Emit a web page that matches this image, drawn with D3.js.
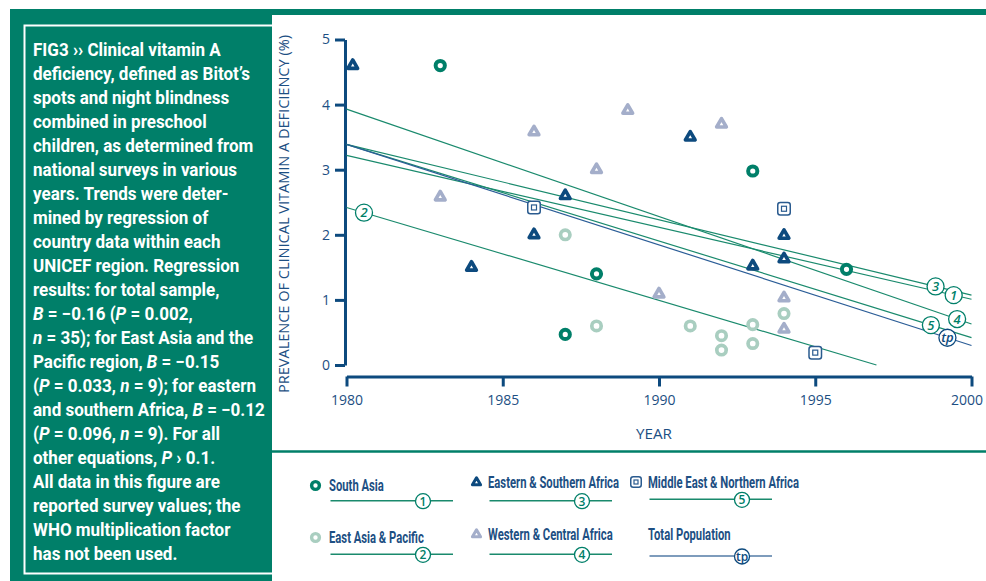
<!DOCTYPE html>
<html><head><meta charset="utf-8">
<script src="https://cdn.jsdelivr.net/npm/d3@7"></script>
<style>body{margin:0;background:#fff} svg{display:block}</style>
</head><body>
<svg id="chart" width="986" height="581"></svg>
<script>
// ---------------- DATA ----------------
const southAsia   = [[1983,4.6],[1987,0.47],[1988,1.4],[1993,2.98],[1996,1.47]];
const eastAsia    = [[1987,2.0],[1988,0.6],[1991,0.6],[1992,0.45],[1992,0.23],[1993,0.62],[1993,0.33],[1994,0.79]];
const esAfrica    = [[1980.2,4.6],[1984,1.5],[1986,2.0],[1987,2.6],[1991,3.5],[1993,1.52],[1994,1.99],[1994,1.63]];
const wcAfrica    = [[1983,2.58],[1986,3.58],[1988,3.0],[1989,3.91],[1990,1.09],[1992,3.7],[1994,1.03],[1994,0.55]];
const mena        = [[1986,2.42],[1994,2.4],[1995,0.19]];

const regionNames = ["South Asia","East Asia & Pacific","Eastern & Southern Africa","Western & Central Africa","Middle East & Northern Africa","Total Population"];
const lineIds     = ["1","2","3","4","5","tp"];
// regression: value at 1980 and slope per year
const lineStart   = [3.22, 2.42, 3.39, 3.93, 3.39, 3.39];
const lineSlope   = [-0.1105, -0.1427, -0.1158, -0.165, -0.1485, -0.1545];
const labelYear   = [1999.43, 1980.56, 1998.85, 1999.54, 1998.7, 1999.23];

const xTicks = [1980,1985,1990,1995,2000];
const yTicks = [0,1,2,3,4,5];

const captionLines = [
 "FIG3 ›› Clinical vitamin A",
 "deficiency, defined as Bitot’s",
 "spots and night blindness",
 "combined in preschool",
 "children, as determined from",
 "national surveys in various",
 "years. Trends were deter-",
 "mined by regression of",
 "country data within each",
 "UNICEF region. Regression",
 "results: for total sample,",
 "*B* = −0.16 (*P* = 0.002,",
 "*n* = 35); for East Asia and the",
 "Pacific region, *B* = −0.15",
 "(*P* = 0.033, *n* = 9); for eastern",
 "and southern Africa, *B* = −0.12",
 "(*P* = 0.096, *n* = 9). For all",
 "other equations, *P* › 0.1.",
 "All data in this figure are",
 "reported survey values; the",
 "WHO multiplication factor",
 "has not been used."
];

// ---------------- STYLE ----------------
const GREEN="#007f69", DBLUE="#0d4a7e", LGREEN="#a9cec0", LBLUE="#a4aeca",
      LINEG="#1a8a6d", TPB="#2b5d97", TXT="#1d4f83", SQB="#2a5b8f";
const svg=d3.select("#chart");

// panel & frame
svg.append("rect").attr("x",10).attr("y",9).attr("width",976).attr("height",6).attr("fill",GREEN);
svg.append("rect").attr("x",10).attr("y",9).attr("width",262).attr("height",572).attr("fill",GREEN);
svg.append("path").attr("d","M272,25.5H24.5V573.5H272").attr("fill","none").attr("stroke","#fff").attr("stroke-width",2);
svg.append("line").attr("x1",272).attr("x2",986).attr("y1",451.5).attr("y2",451.5).attr("stroke",GREEN).attr("stroke-width",2.5);

// caption
const cap=svg.append("g").attr("fill","#fff").attr("font-family","'Liberation Sans Narrow','Roboto','Noto Sans',sans-serif").attr("font-weight",700).attr("font-size",17.5);
const capTexts=captionLines.map((ln,i)=>{
  const t=cap.append("text").attr("x",0).attr("y",0).attr("transform",`translate(33,${56+24*i})`);
  ln.split("*").forEach((s,j)=>{ if(s) t.append("tspan").attr("font-style", j%2?"italic":"normal").text(s);});
  return t;
});
const kCap = 232 / capTexts[15].node().getComputedTextLength();
capTexts.forEach((t,i)=>t.attr("transform",`translate(33,${56+24*i}) scale(${kCap},1)`));

// scales
const x=d3.scaleLinear().domain([1980,2000]).range([346.5,971.5]);
const y=d3.scaleLinear().domain([0,5]).range([365,39.5]);

// axes
const yAx=svg.append("g").attr("transform","translate(345,0)")
  .call(d3.axisLeft(y).tickValues(yTicks).tickSize(10).tickSizeOuter(0).tickPadding(5).tickFormat(d3.format("d")));
const xAx=svg.append("g").attr("transform","translate(0,376.5)")
  .call(d3.axisBottom(x).tickValues(xTicks).tickSize(10).tickSizeOuter(0).tickPadding(9).tickFormat(d3.format("d")));
[yAx,xAx].forEach(g=>{
  g.selectAll("path.domain").attr("stroke",DBLUE).attr("stroke-width",3);
  g.selectAll(".tick line").attr("stroke",DBLUE).attr("stroke-width",3);
  g.selectAll(".tick text").attr("fill",TXT).attr("font-family","'Open Sans',sans-serif").attr("font-size",14);
});
xAx.selectAll(".tick text").filter(d=>d===2000).attr("text-anchor","end").attr("x",11);
svg.append("text").attr("transform","translate(289,214) rotate(-90)").attr("text-anchor","middle")
  .attr("fill",TXT).attr("font-family","'Open Sans',sans-serif").attr("font-size",14)
  .attr("textLength",358).attr("lengthAdjust","spacingAndGlyphs")
  .text("PREVALENCE OF CLINICAL VITAMIN A DEFICIENCY (%)");
svg.append("text").attr("x",654).attr("y",438.5).attr("text-anchor","middle")
  .attr("fill",TXT).attr("font-family","'Open Sans',sans-serif").attr("font-size",14).attr("textLength",36).attr("lengthAdjust","spacingAndGlyphs").text("YEAR");

// regression lines
const lineEnd = lineStart.map((a,i)=>Math.min(2000, 1980 + a/(-lineSlope[i])));
const lineG=svg.append("g");
lineIds.forEach((id,i)=>{
  const f=yr=>lineStart[i]+lineSlope[i]*(yr-1980);
  lineG.append("line").attr("x1",x(1980)).attr("y1",y(f(1980))).attr("x2",x(lineEnd[i])).attr("y2",y(f(lineEnd[i])))
    .attr("stroke", id==="tp"?TPB:LINEG).attr("stroke-width",1.2);
});

// markers
function triPath(R){const c=R*Math.cos(Math.PI/6);return `M0,${-R}L${c},${R/2}L${-c},${R/2}Z`;}
function drawCircle(g,cx,cy,col,r,sw){g.append("circle").attr("cx",cx).attr("cy",cy).attr("r",r).attr("fill","#fff").attr("stroke",col).attr("stroke-width",sw);}
function drawTri(g,cx,cy,col,R,sw){g.append("path").attr("d",triPath(R)).attr("transform",`translate(${cx},${cy})`).attr("fill","#fff").attr("stroke",col).attr("stroke-width",sw).attr("stroke-linejoin","round");}
function drawSq(g,cx,cy,s,si){
  g.append("rect").attr("x",cx-s/2).attr("y",cy-s/2).attr("width",s).attr("height",s).attr("rx",2.5).attr("fill","#fff").attr("stroke",SQB).attr("stroke-width",1.5);
  g.append("rect").attr("x",cx-si/2).attr("y",cy-si/2).attr("width",si).attr("height",si).attr("fill","#fff").attr("stroke",SQB).attr("stroke-width",1.2);
}
const pts=svg.append("g");
eastAsia.forEach(d=>drawCircle(pts,x(d[0]),y(d[1]),LGREEN,4.7,3.7));
southAsia.forEach(d=>drawCircle(pts,x(d[0]),y(d[1]),GREEN,4.6,4));
wcAfrica.forEach(d=>drawTri(pts,x(d[0]),y(d[1]),LBLUE,5.6,3.6));
esAfrica.forEach(d=>drawTri(pts,x(d[0]),y(d[1]),DBLUE,5.6,3.6));
mena.forEach(d=>drawSq(pts,x(d[0]),y(d[1]),12.5,5));

// line labels
function drawLabel(g,cx,cy,id,r,fs,ital){
  const col = id==="tp"?DBLUE:GREEN;
  g.append("circle").attr("cx",cx).attr("cy",cy).attr("r",r).attr("fill","#fff").attr("stroke",col).attr("stroke-width",1.3);
  g.append("text").attr("x",cx).attr("y",cy).attr("dy","0.36em").attr("text-anchor","middle").attr("fill",col)
    .attr("font-family","'Open Sans',sans-serif").attr("font-style",ital?"italic":"normal").attr("font-weight",600).attr("font-size",fs).text(id);
}
const labG=svg.append("g");
lineIds.forEach((id,i)=>{
  const v=lineStart[i]+lineSlope[i]*(labelYear[i]-1980);
  drawLabel(labG,x(labelYear[i]),y(v),id,8.5,13,true);
});

// legend
const legCol=[329,488,648], legRowText=[[491,543],[488,540],[487.5,540]], legRowLine=[[500.7,554.3],[500.7,554.3],[499.3,556]];
const legOrder=[[0,1],[2,3],[4,5]]; // column -> series indices
const legG=svg.append("g");
const legTexts=[];
legOrder.forEach((col,c)=>{
  col.forEach((si,r)=>{
    const tx=legCol[c], ty=legRowText[c][r];
    const ly=legRowLine[c][r];
    legG.append("line").attr("x1",tx+1.5).attr("x2",tx+124).attr("y1",ly).attr("y2",ly)
      .attr("stroke", si===5?"#7e9cbc":LINEG).attr("stroke-width", si===5?2:1.5);
    drawLabel(legG,tx+94,ly+0.5,lineIds[si],7.5,12,false);
    const t=legG.append("text").attr("x",0).attr("y",0).attr("fill",TXT)
      .attr("font-family","'Liberation Sans Narrow','Roboto','Noto Sans',sans-serif").attr("font-weight",700).attr("font-size",16)
      .text(regionNames[si]);
    legTexts.push({t,tx,ty});
    const my=ty-5.5;
    if(si===0) drawCircle(legG,tx-13.5,my,GREEN,3.9,3.4);
    if(si===1) drawCircle(legG,tx-13.5,my,LGREEN,3.9,3.4);
    if(si===2) drawTri(legG,tx-11.5,my,DBLUE,4.7,3);
    if(si===3) drawTri(legG,tx-11.5,my,LBLUE,4.7,3);
    if(si===4) drawSq(legG,tx-12,my,10.5,4);
  });
});
const kLeg = 151 / legTexts[4].t.node().getComputedTextLength();
legTexts.forEach(o=>o.t.attr("transform",`translate(${o.tx},${o.ty}) scale(${kLeg},1)`));
</script>
</body></html>
